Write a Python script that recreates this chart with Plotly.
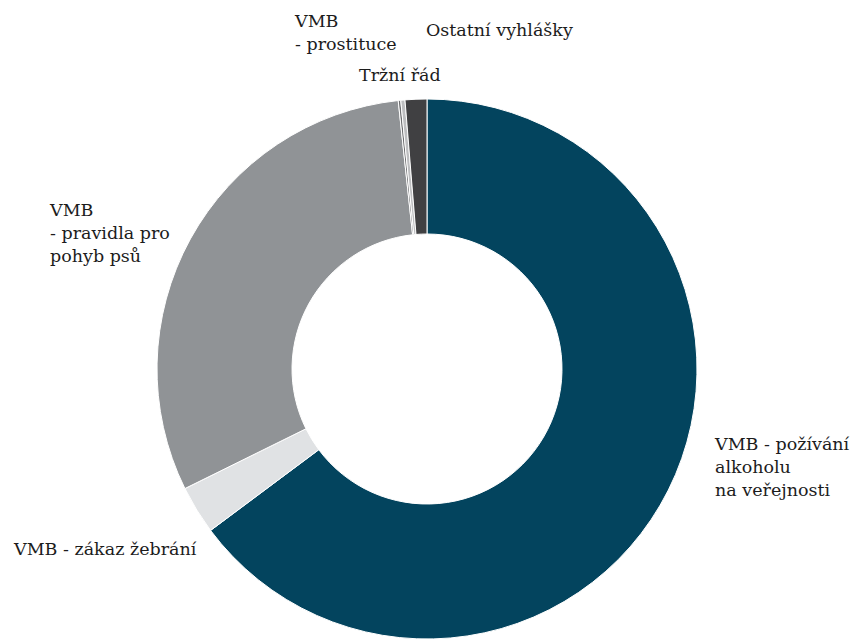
import plotly.graph_objects as go

labels = [
    "VMB - požívání alkoholu na veřejnosti",
    "VMB - zákaz žebrání",
    "VMB - pravidla pro pohyb psů",
    "VMB - prostituce",
    "Tržní řád",
    "Ostatní vyhlášky",
]
values = [64.8, 2.9, 30.6, 0.15, 0.25, 1.3]
colors = ["#03445e", "#e0e2e4", "#909396", "#6e6f71", "#bdbec0", "#404042"]

label_texts = [
    "VMB - požívání<br>alkoholu<br>na veřejnosti",
    "VMB - zákaz žebrání",
    "VMB<br>- pravidla pro<br>pohyb psů",
    "VMB<br>- prostituce",
    "Tržní řád",
    "Ostatní vyhlášky",
]

W, H = 852, 639

fig = go.Figure(
    go.Pie(
        labels=labels,
        values=values,
        hole=0.5,
        sort=False,
        direction="clockwise",
        rotation=0,
        textinfo="none",
        marker=dict(colors=colors, line=dict(color="#ffffff", width=1)),
        domain=dict(x=[(427 - 270) / W, (427 + 270) / W], y=[0, 540 / H]),
        showlegend=False,
        hoverinfo="label+percent",
    )
)

# label positions in pixels (left x, vertical centre y from top)
pos = [(712, 467), (11, 549), (47, 233), (292, 32), (357, 75), (424, 30)]
for txt, (px, py) in zip(label_texts, pos):
    fig.add_annotation(
        text=txt,
        x=px / W,
        y=1 - py / H,
        xref="paper",
        yref="paper",
        xanchor="left",
        yanchor="middle",
        align="left",
        showarrow=False,
        font=dict(family="DejaVu Serif", size=17.5, color="#1c1c1c"),
    )

fig.update_layout(
    width=W,
    height=H,
    margin=dict(l=0, r=0, t=0, b=0),
    paper_bgcolor="#ffffff",
    plot_bgcolor="#ffffff",
)

fig.write_html(
    "out.html",
    config={"displayModeBar": False},
    post_script="document.body.style.margin='0';document.body.style.overflow='hidden';",
)
